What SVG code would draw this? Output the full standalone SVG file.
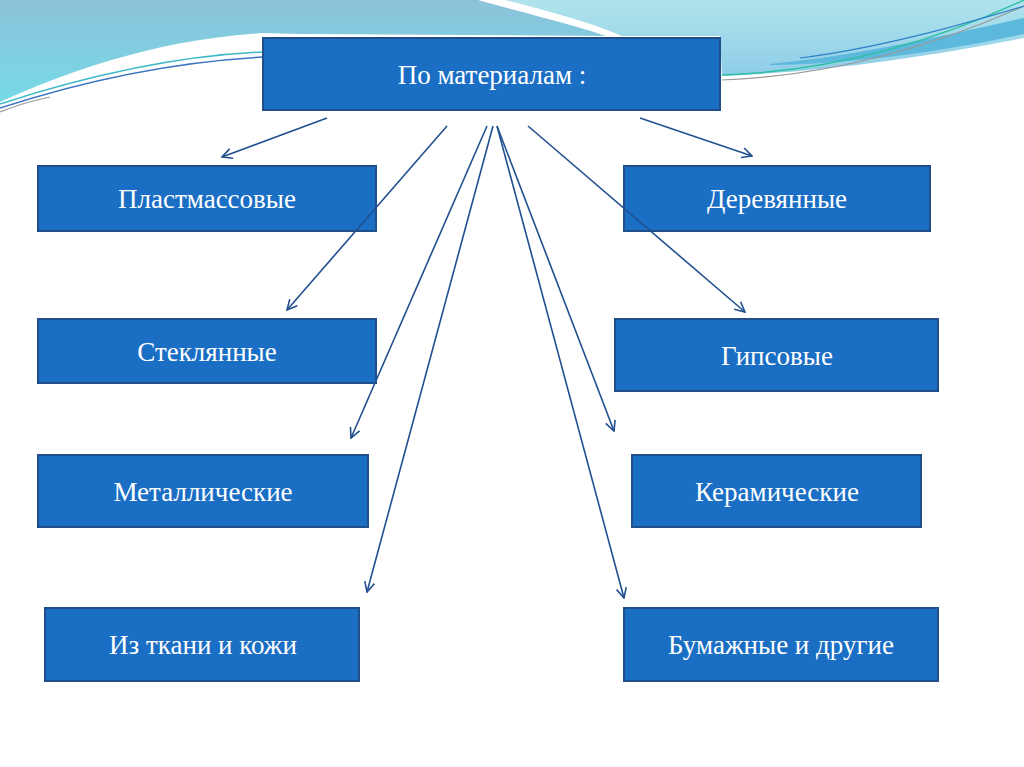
<svg xmlns="http://www.w3.org/2000/svg" width="1024" height="767" viewBox="0 0 1024 767">
<defs>
<linearGradient id="gl" x1="0" y1="0" x2="0" y2="1">
<stop offset="0" stop-color="#8CC2DA"/><stop offset="1" stop-color="#76DAE6"/>
</linearGradient>
<linearGradient id="gr" x1="0" y1="0" x2="0" y2="1">
<stop offset="0" stop-color="#B0E4EC"/><stop offset="1" stop-color="#8ECDE8"/>
</linearGradient>
<marker id="ah" viewBox="0 0 12 12" refX="11" refY="6" markerWidth="12" markerHeight="12" markerUnits="userSpaceOnUse" orient="auto">
<path d="M1,1 L11,6 L1,11" fill="none" stroke="#21508F" stroke-width="1.6"/>
</marker>
<style>
.box{fill:#1A6EC4;stroke:#1F4E8A;stroke-width:2}
.lbl{fill:#FFFFFF;font-family:"Liberation Serif","DejaVu Serif",serif;font-size:27px;text-anchor:middle}
.con{stroke:#21508F;stroke-width:1.6;fill:none;marker-end:url(#ah)}
</style>
</defs>
<rect width="1024" height="767" fill="#FFFFFF"/>
<g id="background">
<path d="M0,0 L478,0 C520,12 575,25 606,36 L300,34 L263,33 C150,40 60,75 0,102 Z" fill="url(#gl)"/>
<path d="M505,0 L1024,0 L1024,38 C920,58 820,72 722,76 L720,36 L622,36 C590,22 545,10 505,0 Z" fill="url(#gr)"/>
<path d="M770,64 C860,56 960,32 1024,18 L1024,34 C950,50 860,64 770,65 Z" fill="#5CB8DC"/>
<path d="M722,75 C820,72 920,48 1024,0" fill="none" stroke="#2DBFA2" stroke-width="1.5"/>
<path d="M722,80 C830,76 930,48 1024,6" fill="none" stroke="#9A9A9A" stroke-width="1.2"/>
<path d="M800,58 C880,48 960,25 1024,6" fill="none" stroke="#2E80C8" stroke-width="1.2"/>
<path d="M0,104 C80,78 170,56 263,52" fill="none" stroke="#3DB8C8" stroke-width="1.5"/>
<path d="M0,108 C80,82 170,62 263,57" fill="none" stroke="#3A74C2" stroke-width="1.5"/>
<path d="M0,112 C20,104 35,100 50,97" fill="none" stroke="#9A9A9A" stroke-width="1.2"/>
</g>
<g id="n-top"><rect class="box" x="263" y="38" width="457" height="72"/><text class="lbl" x="492" y="84">По материалам :</text></g>
<g id="n-plast"><rect class="box" x="38" y="166" width="338" height="65"/><text class="lbl" x="207" y="208">Пластмассовые</text></g>
<g id="n-derev"><rect class="box" x="624" y="166" width="306" height="65"/><text class="lbl" x="777" y="208">Деревянные</text></g>
<g id="n-stekl"><rect class="box" x="38" y="319" width="338" height="64"/><text class="lbl" x="207" y="361">Стеклянные</text></g>
<g id="n-gips"><rect class="box" x="615" y="319" width="323" height="72"/><text class="lbl" x="777" y="365">Гипсовые</text></g>
<g id="n-metal"><rect class="box" x="38" y="455" width="330" height="72"/><text class="lbl" x="203" y="501">Металлические</text></g>
<g id="n-keram"><rect class="box" x="632" y="455" width="289" height="72"/><text class="lbl" x="777" y="501">Керамические</text></g>
<g id="n-tkan"><rect class="box" x="45" y="608" width="314" height="73"/><text class="lbl" x="203" y="654">Из ткани и кожи</text></g>
<g id="n-bumag"><rect class="box" x="624" y="608" width="314" height="73"/><text class="lbl" x="781" y="654">Бумажные и другие</text></g>
<g id="connectors">
<line class="con" x1="327" y1="118" x2="222" y2="157"/>
<line class="con" x1="640" y1="118" x2="752" y2="156"/>
<line class="con" x1="447" y1="126" x2="287" y2="310"/>
<line class="con" x1="528" y1="126" x2="745" y2="312"/>
<line class="con" x1="487" y1="126" x2="351" y2="438"/>
<line class="con" x1="497" y1="126" x2="614" y2="431"/>
<line class="con" x1="493" y1="126" x2="367" y2="592"/>
<line class="con" x1="497" y1="126" x2="624" y2="598"/>
</g>
</svg>
